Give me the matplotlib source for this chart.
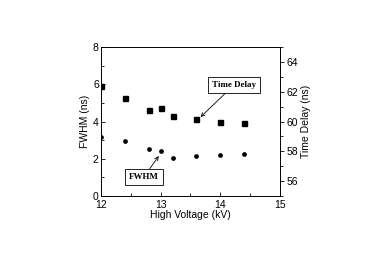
import matplotlib.pyplot as plt
from matplotlib.ticker import MultipleLocator

# data
voltage = [12.0, 12.4, 12.8, 13.0, 13.2, 13.6, 14.0, 14.4]
fwhm = [3.16, 2.93, 2.53, 2.41, 2.05, 2.16, 2.19, 2.25]
delay = [62.4, 61.6, 60.8, 60.9, 60.4, 60.2, 60.0, 59.9]

plt.rcParams['font.family'] = ['Liberation Sans', 'DejaVu Sans']

fig = plt.figure(figsize=(3.91, 2.58), dpi=100)
ax = fig.add_axes([0.258, 0.240, 0.458, 0.578])
ax2 = ax.twinx()

ax.plot(voltage, fwhm, 'o', color='black', markersize=2.4)
ax2.plot(voltage, delay, 's', color='black', markersize=3.6)

ax.set_xlim(12, 15)
ax.set_ylim(0, 8)
ax2.set_ylim(55, 65)

ax.xaxis.set_major_locator(MultipleLocator(1))
ax.xaxis.set_minor_locator(MultipleLocator(0.5))
ax.yaxis.set_major_locator(MultipleLocator(2))
ax.yaxis.set_minor_locator(MultipleLocator(1))
ax2.yaxis.set_major_locator(MultipleLocator(2))
ax2.yaxis.set_minor_locator(MultipleLocator(1))
ax2.set_yticks([56, 58, 60, 62, 64])

ax.tick_params(axis='both', which='both', direction='in', labelsize=7.5,
               width=0.6, pad=1.5)
ax.tick_params(axis='x', pad=2.5)
ax.tick_params(which='major', length=3)
ax.tick_params(which='minor', length=2)
ax2.tick_params(axis='y', which='both', direction='out', labelsize=7.5,
                width=0.6, pad=1.5)
ax2.tick_params(which='major', length=3)
ax2.tick_params(which='minor', length=2)

for a in (ax, ax2):
    for s in a.spines.values():
        s.set_linewidth(0.6)

ax.set_xlabel('High Voltage (kV)', fontsize=7.5, labelpad=0)
ax.set_ylabel('FWHM (ns)', fontsize=7.5, labelpad=2)
ax2.set_ylabel('Time Delay (ns)', fontsize=7.5, labelpad=2)

box = dict(boxstyle='square,pad=0.45', fc='white', ec='black', lw=0.6)
ax2.annotate('Time Delay', xy=(13.67, 60.3), xytext=(14.23, 62.45),
             fontsize=6.5, family='Liberation Serif', weight='bold',
             ha='center', va='center', bbox=box,
             arrowprops=dict(arrowstyle='->', lw=0.6, color='black',
                             shrinkA=0, shrinkB=0))
ax.annotate('FWHM', xy=(12.97, 2.15), xytext=(12.72, 1.02),
            fontsize=6.5, family='Liberation Serif', weight='bold',
            ha='center', va='center', bbox=box,
            arrowprops=dict(arrowstyle='->', lw=0.6, color='black',
                            shrinkA=0, shrinkB=0))

fig.savefig('out.png', dpi=100)
